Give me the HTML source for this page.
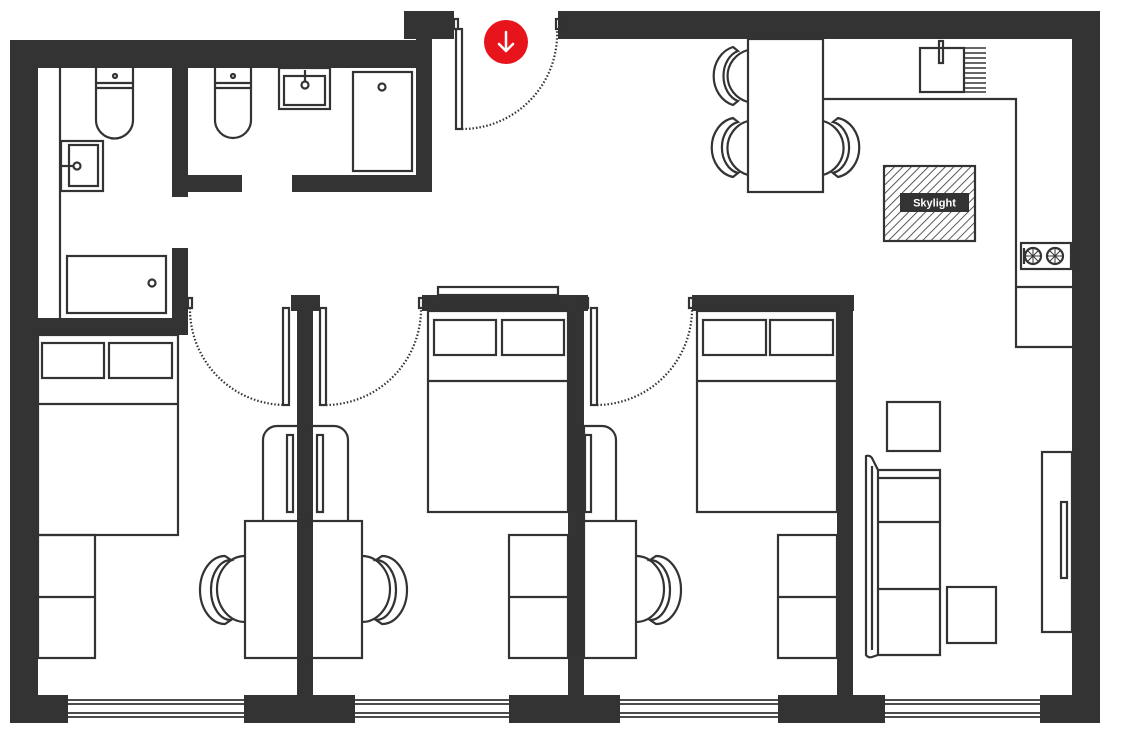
<!DOCTYPE html>
<html><head><meta charset="utf-8"><style>html,body{margin:0;padding:0;background:#fff}svg{display:block}</style></head>
<body>
<svg width="1133" height="736" viewBox="0 0 1133 736" xmlns="http://www.w3.org/2000/svg">
<defs>
<pattern id="h" width="6" height="6" patternUnits="userSpaceOnUse" patternTransform="rotate(45)">
<rect width="6" height="6" fill="#fff"/><line x1="0" y1="0" x2="0" y2="6" stroke="#333" stroke-width="1.6"/>
</pattern>
</defs>
<g fill="#333">
<rect x="10" y="40" width="422" height="28"/>
<rect x="404" y="11" width="50" height="28"/>
<rect x="416" y="11" width="16" height="181"/>
<rect x="10" y="40" width="28" height="683"/>
<rect x="172" y="68" width="16" height="129"/>
<rect x="188" y="175" width="54" height="17"/>
<rect x="292" y="175" width="140" height="17"/>
<rect x="172" y="248" width="16" height="87"/>
<rect x="38" y="318" width="150" height="17"/>
<rect x="558" y="11" width="542" height="28"/>
<rect x="1072" y="11" width="28" height="712"/>
<rect x="291" y="295" width="29" height="16"/>
<rect x="297" y="295" width="16" height="400"/>
<rect x="422" y="295" width="166" height="16"/>
<rect x="568" y="295" width="16" height="400"/>
<rect x="692" y="295" width="162" height="16"/>
<rect x="837" y="295" width="16" height="400"/>
<rect x="10" y="695" width="58" height="28"/>
<rect x="244" y="695" width="111" height="28"/>
<rect x="509" y="695" width="111" height="28"/>
<rect x="778" y="695" width="107" height="28"/>
<rect x="1040" y="695" width="60" height="28"/>
</g>
<g fill="none" stroke="#333" stroke-width="2.2">
<path stroke-width="1.8" d="M68 700H244M68 704H244M68 713H244M68 717H244M355 700H509M355 704H509M355 713H509M355 717H509M620 700H778M620 704H778M620 713H778M620 717H778M885 700H1040M885 704H1040M885 713H1040M885 717H1040"/>
<line x1="60" y1="68" x2="60" y2="318"/>
<path d="M96 68V120A18 18 0 0 0 133 120V68"/><path d="M96 83H133M96 88H133"/><circle cx="115" cy="76" r="2"/>
<path d="M215 68V120A18 18 0 0 0 251 120V68"/><path d="M215 83H251M215 88H251"/><circle cx="233" cy="76" r="2"/>
<rect x="279" y="68" width="51" height="41"/><rect x="284" y="76" width="41" height="29"/><circle cx="305" cy="85" r="3.5"/><line x1="305" y1="70" x2="305" y2="81"/>
<rect x="61" y="141" width="42" height="50"/><rect x="69" y="145" width="29" height="41"/><circle cx="77" cy="166" r="3.5"/><line x1="62" y1="166" x2="73" y2="166"/>
<rect x="353" y="72" width="59" height="99"/><circle cx="382" cy="87" r="3.5"/>
<rect x="67" y="256" width="99" height="57"/><circle cx="152" cy="283" r="3.5"/>
<rect x="456" y="29" width="6" height="100"/><rect x="454" y="19" width="4" height="10"/><rect x="556" y="19" width="4" height="10"/>
<path d="M462 129A95 95 0 0 0 557 30" stroke-dasharray="1.5 2"/>
<rect x="188" y="298" width="4" height="10"/><rect x="283" y="308" width="6" height="97"/>
<path d="M190 308A96 96 0 0 0 285 405" stroke-dasharray="1.5 2"/>
<rect x="320" y="308" width="6" height="97"/><rect x="419" y="298" width="4" height="10"/>
<path d="M326 405A96 96 0 0 0 421 308" stroke-dasharray="1.5 2"/>
<rect x="584" y="298" width="4" height="10"/><rect x="591" y="308" width="6" height="97"/>
<path d="M597 405A96 96 0 0 0 692 308" stroke-dasharray="1.5 2"/>
<rect x="689" y="298" width="4" height="10"/>
<rect x="38" y="335" width="140" height="200"/><rect x="42" y="343" width="62" height="35"/><rect x="109" y="343" width="63" height="35"/><line x1="38" y1="404" x2="178" y2="404"/>
<rect x="438" y="287" width="120" height="8"/>
<rect x="428" y="311" width="140" height="201"/><rect x="434" y="320" width="62" height="35"/><rect x="502" y="320" width="62" height="35"/><line x1="428" y1="381" x2="568" y2="381"/>
<rect x="697" y="311" width="140" height="201"/><rect x="703" y="320" width="63" height="35"/><rect x="770" y="320" width="63" height="35"/><line x1="697" y1="381" x2="837" y2="381"/>
<rect x="38" y="535" width="57" height="123"/><line x1="38" y1="597" x2="95" y2="597"/>
<rect x="509" y="535" width="59" height="123"/><line x1="509" y1="597" x2="568" y2="597"/>
<rect x="778" y="535" width="59" height="123"/><line x1="778" y1="597" x2="837" y2="597"/>
<path d="M263 521V440A14 14 0 0 1 277 426H334A14 14 0 0 1 348 440V521"/>
<rect x="287" y="435" width="6" height="77"/><rect x="317" y="435" width="6" height="77"/>
<rect x="245" y="521" width="117" height="137"/>
<path d="M584 521V426H602A14 14 0 0 1 616 440V521"/><rect x="585" y="435" width="6" height="77"/>
<rect x="584" y="521" width="52" height="137"/>
<path d="M245 556A28 33 0 0 0 245 622"/><path d="M225 556A25 34 0 0 0 225 624L231 620A20 30 0 0 1 231 560Z"/>
<path d="M362 556A28 33 0 0 1 362 622"/><path d="M382 556A25 34 0 0 1 382 624L376 620A20 30 0 0 0 376 560Z"/>
<path d="M636 556A28 33 0 0 1 636 622"/><path d="M656 556A25 34 0 0 1 656 624L650 620A20 30 0 0 0 650 560Z"/>
<rect x="748" y="39" width="75" height="153"/>
<path d="M748 50A28 27 0 0 0 748 102"/><path d="M733 47A26 30 0 0 0 733 105L738 101A20 26 0 0 1 738 51Z"/>
<path d="M748 121A28 28 0 0 0 748 175"/><path d="M733 118A26 30 0 0 0 733 177L738 173A20 26 0 0 1 738 122Z"/>
<path d="M823 121A28 28 0 0 1 823 175"/><path d="M838 118A26 30 0 0 1 838 177L833 173A20 26 0 0 0 833 122Z"/>
<path d="M823 99H1016V347H1072M1016 287H1072"/>
<rect x="920" y="48" width="44" height="44"/><rect x="939" y="41" width="4" height="22"/>
<path stroke-width="1.6" d="M964 48H986M964 53H986M964 58H986M964 63H986M964 68H986M964 73H986M964 78H986M964 83H986M964 88H986M964 92H986"/>
<rect x="1021" y="243" width="50" height="26"/>
<circle cx="1033" cy="256" r="8"/><circle cx="1055" cy="256" r="8"/>
<path d="M1025 256H1041M1033 248V264M1027 250L1039 262M1039 250L1027 262M1047 256H1063M1055 248V264M1049 250L1061 262M1061 250L1049 262" stroke-width="1"/>
<path d="M1024 248V264"/>
<rect x="887" y="402" width="53" height="49"/>
<rect x="947" y="587" width="49" height="56"/>
<path d="M866 456A5 5 0 0 1 872 458L878 470H940V655H878L872 657A5 5 0 0 1 866 655Z"/>
<line x1="878" y1="470" x2="878" y2="655"/><line x1="872" y1="466" x2="872" y2="650"/>
<path d="M878 478H940M878 522H940M878 589H940"/>
<rect x="1042" y="452" width="30" height="180"/><rect x="1061" y="502" width="6" height="76"/>
</g>
<rect x="884" y="166" width="91" height="75" fill="url(#h)" stroke="#333" stroke-width="2.2"/>
<rect x="900" y="193" width="69" height="19" fill="#333"/>
<text x="934.5" y="206.5" text-anchor="middle" font-family="Liberation Sans, sans-serif" font-size="11" font-weight="bold" fill="#fff">Skylight</text>
<circle cx="506" cy="42" r="22" fill="#e8141c"/>
<path d="M506 32V51M499 44L506 51L513 44" fill="none" stroke="#fff" stroke-width="2.5" stroke-linecap="round" stroke-linejoin="round"/>
</svg>
</body></html>
